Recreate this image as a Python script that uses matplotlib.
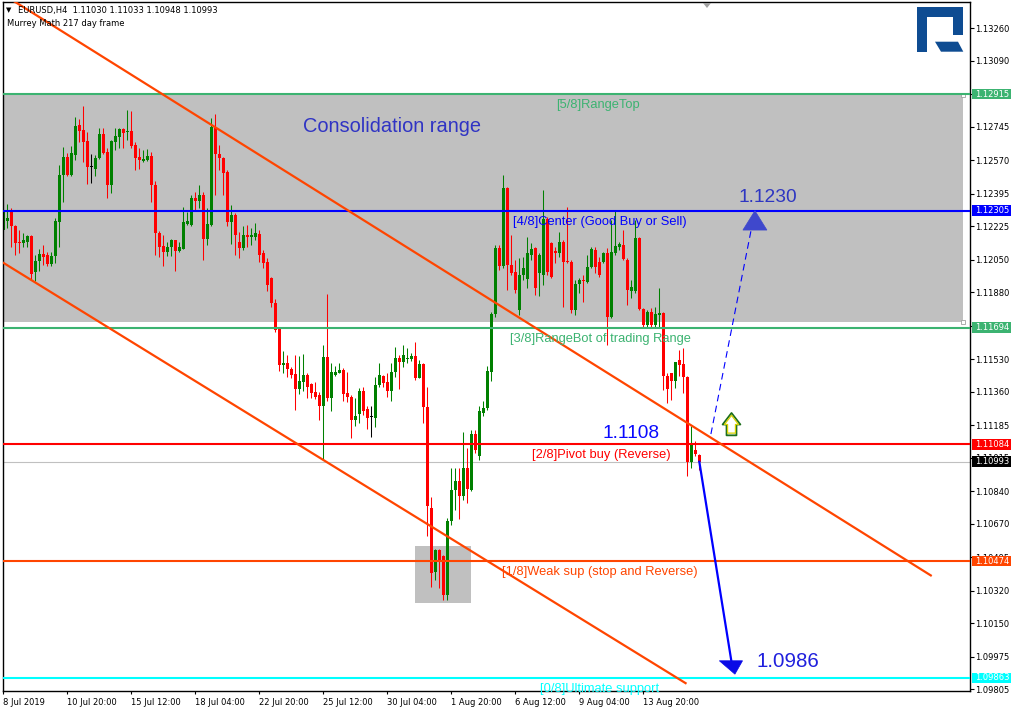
import matplotlib
matplotlib.use('Agg')
import matplotlib.pyplot as plt
import matplotlib.transforms as mtrans
from matplotlib.patches import Rectangle, Polygon
from matplotlib.path import Path
import numpy as np

# ---------------- data (EURUSD H4) ----------------
opens = [1.12202, 1.12249, 1.12310, 1.12226, 1.12144, 1.12134, 1.12144, 1.12171, 1.11983, 1.12040,
         1.12078, 1.12075, 1.12028, 1.12066, 1.12244, 1.12492, 1.12588, 1.12492, 1.12597, 1.12753,
         1.12727, 1.12670, 1.12536, 1.12524, 1.12579, 1.12705, 1.12614, 1.12440, 1.12666, 1.12689,
         1.12733, 1.12715, 1.12722, 1.12649, 1.12588, 1.12565, 1.12571, 1.12592, 1.12440, 1.12191,
         1.12122, 1.12092, 1.12113, 1.12153, 1.12097, 1.12106, 1.12237, 1.12231, 1.12371, 1.12357,
         1.12388, 1.12158, 1.12231, 1.12745, 1.12600, 1.12583, 1.12506, 1.12244, 1.12284, 1.12143,
         1.12110, 1.12178, 1.12168, 1.12168, 1.12184, 1.12084, 1.12037, 1.11952, 1.11821, 1.11691,
         1.11501, 1.11508, 1.11476, 1.11452, 1.11374, 1.11412, 1.11447, 1.11400, 1.11358, 1.11343,
         1.11282, 1.11539, 1.11327, 1.11447, 1.11459, 1.11473, 1.11351, 1.11334, 1.11212, 1.11243,
         1.11365, 1.11268, 1.11228, 1.11224, 1.11395, 1.11442, 1.11410, 1.11365, 1.11463, 1.11536,
         1.11517, 1.11529, 1.11529, 1.11546, 1.11433, 1.11504, 1.11281, 1.10754, 1.10415, 1.10533,
         1.10499, 1.10295, 1.10686, 1.10843, 1.10890, 1.10815, 1.10960, 1.10847, 1.11140, 1.11021,
         1.11248, 1.11274, 1.11460, 1.11766, 1.12109, 1.12017, 1.12422, 1.12022, 1.11987, 1.11787,
         1.11970, 1.11949, 1.12074, 1.12109, 1.11978, 1.11970, 1.12260, 1.12138, 1.12097, 1.12086,
         1.12144, 1.12043, 1.12039, 1.11787, 1.11923, 1.11944, 1.11935, 1.12010, 1.12100, 1.12039,
         1.12039, 1.12086, 1.11752, 1.12086, 1.12114, 1.12126, 1.12048, 1.11883, 1.11883, 1.12161,
         1.11790, 1.11709, 1.11775, 1.11709, 1.11761, 1.11770, 1.11439, 1.11456, 1.11413, 1.11526,
         1.11505, 1.11436, 1.10990, 1.11056, 1.11030]
highs = [1.12345, 1.12341, 1.12318, 1.12231, 1.12205, 1.12188, 1.12179, 1.12179, 1.12075, 1.12106,
         1.12127, 1.12092, 1.12092, 1.12266, 1.12545, 1.12640, 1.12606, 1.12646, 1.12797, 1.12785,
         1.12853, 1.12719, 1.12600, 1.12597, 1.12736, 1.12736, 1.12632, 1.12675, 1.12736, 1.12736,
         1.12739, 1.12832, 1.12826, 1.12666, 1.12632, 1.12623, 1.12628, 1.12614, 1.12458, 1.12197,
         1.12179, 1.12144, 1.12156, 1.12153, 1.12144, 1.12327, 1.12301, 1.12388, 1.12405, 1.12437,
         1.12405, 1.12318, 1.12792, 1.12809, 1.12649, 1.12588, 1.12519, 1.12336, 1.12292, 1.12195,
         1.12225, 1.12230, 1.12215, 1.12241, 1.12204, 1.12100, 1.12058, 1.11957, 1.11842, 1.11696,
         1.11572, 1.11550, 1.11487, 1.11551, 1.11546, 1.11557, 1.11456, 1.11407, 1.11412, 1.11360,
         1.11604, 1.11870, 1.11508, 1.11494, 1.11508, 1.11482, 1.11464, 1.11343, 1.11325, 1.11377,
         1.11386, 1.11282, 1.11285, 1.11438, 1.11508, 1.11447, 1.11456, 1.11508, 1.11595, 1.11551,
         1.11604, 1.11586, 1.11560, 1.11621, 1.11525, 1.11508, 1.11386, 1.10807, 1.10537, 1.10537,
         1.10507, 1.10699, 1.10960, 1.10960, 1.10960, 1.11151, 1.11064, 1.11161, 1.11161, 1.11282,
         1.11309, 1.11491, 1.11778, 1.12126, 1.12126, 1.12492, 1.12430, 1.12179, 1.12048, 1.12057,
         1.12065, 1.12170, 1.12135, 1.12118, 1.12083, 1.12413, 1.12274, 1.12144, 1.12118, 1.12196,
         1.12152, 1.12326, 1.12048, 1.11944, 1.11952, 1.11970, 1.12074, 1.12118, 1.12118, 1.12065,
         1.12092, 1.12109, 1.12257, 1.12309, 1.12144, 1.12205, 1.12057, 1.11944, 1.12257, 1.12170,
         1.11796, 1.11787, 1.11796, 1.11804, 1.11900, 1.11778, 1.11456, 1.11456, 1.11517, 1.11578,
         1.11587, 1.11443, 1.11178, 1.11100, 1.11033]
lows = [1.12197, 1.12217, 1.12118, 1.12075, 1.12084, 1.12118, 1.12118, 1.11944, 1.11939, 1.11991,
        1.12023, 1.12014, 1.12014, 1.12031, 1.12118, 1.12350, 1.12488, 1.12488, 1.12571, 1.12666,
        1.12562, 1.12444, 1.12449, 1.12484, 1.12576, 1.12600, 1.12374, 1.12400, 1.12623, 1.12635,
        1.12632, 1.12675, 1.12632, 1.12519, 1.12524, 1.12559, 1.12565, 1.12350, 1.12075, 1.12063,
        1.12014, 1.12066, 1.12070, 1.11988, 1.12089, 1.12106, 1.12231, 1.12223, 1.12310, 1.12318,
        1.12045, 1.12127, 1.12223, 1.12388, 1.12519, 1.12388, 1.12223, 1.12132, 1.12075, 1.12056,
        1.12100, 1.12115, 1.12126, 1.12152, 1.12037, 1.12006, 1.11887, 1.11804, 1.11673, 1.11470,
        1.11456, 1.11435, 1.11430, 1.11264, 1.11348, 1.11365, 1.11325, 1.11325, 1.11322, 1.11212,
        1.11003, 1.11313, 1.11256, 1.11442, 1.11456, 1.11313, 1.11308, 1.11116, 1.11181, 1.11198,
        1.11238, 1.11163, 1.11125, 1.11174, 1.11386, 1.11386, 1.11329, 1.11313, 1.11438, 1.11374,
        1.11487, 1.11511, 1.11522, 1.11421, 1.11430, 1.11198, 1.10603, 1.10339, 1.10377, 1.10333,
        1.10272, 1.10269, 1.10664, 1.10742, 1.10694, 1.10794, 1.10777, 1.10839, 1.11039, 1.11004,
        1.11230, 1.11265, 1.11413, 1.11752, 1.11996, 1.12005, 1.11891, 1.11970, 1.11874, 1.11761,
        1.11944, 1.11900, 1.12048, 1.11865, 1.11857, 1.11917, 1.11970, 1.11952, 1.12031, 1.12065,
        1.11804, 1.12034, 1.11770, 1.11761, 1.11874, 1.11830, 1.11926, 1.12005, 1.11978, 1.11961,
        1.12031, 1.11604, 1.11744, 1.12074, 1.12100, 1.12048, 1.11813, 1.11848, 1.11874, 1.11787,
        1.11700, 1.11700, 1.11700, 1.11700, 1.11700, 1.11369, 1.11300, 1.11317, 1.11378, 1.11439,
        1.11352, 1.10917, 1.10961, 1.11021, 1.10948]
closes = [1.12301, 1.12266, 1.12223, 1.12139, 1.12134, 1.12153, 1.12171, 1.11976, 1.12044, 1.12080,
          1.12064, 1.12028, 1.12070, 1.12249, 1.12492, 1.12588, 1.12492, 1.12609, 1.12750, 1.12724,
          1.12666, 1.12536, 1.12536, 1.12579, 1.12706, 1.12606, 1.12440, 1.12670, 1.12696, 1.12733,
          1.12713, 1.12722, 1.12646, 1.12583, 1.12571, 1.12576, 1.12592, 1.12437, 1.12188, 1.12113,
          1.12089, 1.12113, 1.12153, 1.12096, 1.12113, 1.12244, 1.12249, 1.12371, 1.12357, 1.12388,
          1.12158, 1.12235, 1.12745, 1.12600, 1.12579, 1.12501, 1.12244, 1.12284, 1.12179, 1.12109,
          1.12178, 1.12168, 1.12178, 1.12189, 1.12073, 1.12032, 1.11917, 1.11821, 1.11682, 1.11499,
          1.11508, 1.11476, 1.11447, 1.11374, 1.11416, 1.11447, 1.11386, 1.11355, 1.11334, 1.11282,
          1.11539, 1.11327, 1.11463, 1.11463, 1.11473, 1.11348, 1.11329, 1.11212, 1.11233, 1.11365,
          1.11259, 1.11224, 1.11228, 1.11395, 1.11445, 1.11407, 1.11365, 1.11464, 1.11536, 1.11517,
          1.11551, 1.11536, 1.11546, 1.11433, 1.11503, 1.11278, 1.10760, 1.10411, 1.10533, 1.10476,
          1.10299, 1.10686, 1.10847, 1.10890, 1.10815, 1.10960, 1.10850, 1.11140, 1.11056, 1.11256,
          1.11274, 1.11470, 1.11766, 1.12109, 1.12017, 1.12422, 1.12022, 1.11982, 1.11891, 1.11970,
          1.12005, 1.12083, 1.12104, 1.11900, 1.12074, 1.12260, 1.11987, 1.11961, 1.12086, 1.12144,
          1.12039, 1.12036, 1.11787, 1.11921, 1.11944, 1.11938, 1.12010, 1.12104, 1.12010, 1.11970,
          1.12083, 1.11752, 1.12092, 1.12121, 1.12130, 1.12051, 1.11891, 1.11909, 1.12161, 1.11790,
          1.11709, 1.11775, 1.11709, 1.11766, 1.11773, 1.11439, 1.11373, 1.11413, 1.11512, 1.11500,
          1.11436, 1.10990, 1.11091, 1.11034, 1.10993]

x_tick_bars = [0, 16, 32, 48, 64, 80, 96, 112, 128, 144, 160]
x_tick_labels = ['8 Jul 2019', '10 Jul 20:00', '15 Jul 12:00', '18 Jul 04:00', '22 Jul 20:00',
                 '25 Jul 12:00', '30 Jul 04:00', '1 Aug 20:00', '6 Aug 12:00', '9 Aug 04:00',
                 '13 Aug 20:00']
y_ticks = [1.13260, 1.13090, 1.12915, 1.12745, 1.12570, 1.12395, 1.12225, 1.12050, 1.11880,
           1.11705, 1.11530, 1.11360, 1.11185, 1.11015, 1.10840, 1.10670, 1.10495, 1.10320,
           1.10150, 1.09975, 1.09805]

levels = [1.12915, 1.12305, 1.11694, 1.11084, 1.10474, 1.09863]
level_names = ['[5/8]RangeTop', '[4/8]Center (Good Buy or Sell)', '[3/8]RangeBot of trading Range',
               '[2/8]Pivot buy (Reverse)', '[1/8]Weak sup (stop and Reverse)', '[0/8]Ultimate support']
level_colors = ['#3CB371', '#0000FF', '#3CB371', '#FF0000', '#FF4500', '#00FFFF']
level_label_bar = [138.1, 127.3, 126.7, 132.1, 124.6, 134.2]
bid_price = 1.10993

# trend channel (bar index, price)
channel_upper = [(0.0, 1.13435), (232.1, 1.10396)]
channel_lower = [(-0.16, 1.12035), (170.8, 1.09833)]

# consolidation range box and low-zone box: (bar0, bar1, price_low, price_high)
consolidation_box = (-1.0, 239.8, 1.11725, 1.12910)
low_box = (102.9, 116.8, 1.10256, 1.10552)

target_up = 1.12305
target_down = 1.09863

# ---------------- figure ----------------
W, H = 1011, 711
fig = plt.figure(figsize=(W / 100, H / 100), dpi=100)
fig.patch.set_facecolor('white')
L, R, T, B = 3, 970, 2, 691
ax = fig.add_axes([L / W, (H - B) / H, (R - L) / W, (B - T) / H])
ymin, ymax = 1.09795, 1.13396
ax.set_xlim(-0.08, 241.67)
ax.set_ylim(ymin, ymax)
ax.set_facecolor('white')
ppx = (ymax - ymin) / (B - T)        # price per pixel

for s in ax.spines.values():
    s.set_color('black')
    s.set_linewidth(1.0)

# rectangles (background)
b0, b1, p0, p1 = consolidation_box
ax.add_patch(Rectangle((b0, p0), b1 - b0, p1 - p0, facecolor='#C0C0C0', edgecolor='none', zorder=0.5))
ax.plot([b1, b1], [p0, p1], ls='none', marker='s', ms=3, mfc='white', mec='#A0A0A0', mew=0.6,
        zorder=0.6, clip_on=False)
b0, b1, p0, p1 = low_box
ax.add_patch(Rectangle((b0, p0), b1 - b0, p1 - p0, facecolor='#C0C0C0', edgecolor='none', zorder=0.5))

# candles
o = np.array(opens); h = np.array(highs); l = np.array(lows); c = np.array(closes)
xs = np.arange(len(o))
cols = np.where(c > o, '#008000', np.where(c < o, '#FF0000', '#000000'))
ax.vlines(xs, np.minimum(l, np.minimum(o, c)), np.maximum(h, np.maximum(o, c)),
          colors=cols, lw=0.75, zorder=2)
body_lo = np.minimum(o, c)
body_h = np.maximum(np.abs(c - o), 0.8 * ppx)
ax.bar(xs, body_h, width=0.68, bottom=body_lo, color=cols, lw=0, zorder=2.1)

# level lines
for lv, col in zip(levels, level_colors):
    ax.axhline(lv, color=col, lw=1.5, zorder=3)
ax.axhline(bid_price, color='#C0C0C0', lw=0.8, zorder=1.5)

for lv, name, col, xb in zip(levels, level_names, level_colors, level_label_bar):
    ax.annotate(name, xy=(xb, lv), xytext=(0, -10), textcoords='offset points',
                ha='left', va='baseline', fontsize=9.3, color=col,
                family=['Liberation Sans', 'DejaVu Sans'], zorder=4)

# channel lines
for seg in (channel_upper, channel_lower):
    (xa, ya), (xb2, yb) = seg
    ax.plot([xa, xb2], [ya, yb], color='#FF4500', lw=1.6, zorder=3.2, solid_capstyle='butt')

# dashed projection up to 1.1230
ax.plot([176.9, 187.9], [1.11138, target_up], color='#0000FF', lw=0.8, ls=(0, (6, 4)), zorder=3.5)
ax.add_patch(Polygon([(187.9, target_up), (184.9, target_up - 19.3 * ppx), (190.9, target_up - 19.3 * ppx)],
                     closed=True, facecolor='#3F48CC', edgecolor='#3F48CC', lw=0.5, zorder=3.6))

# solid projection down to 1.0986
ax.plot([174.0, 182.0], [bid_price, 1.09953], color='#0000FF', lw=1.6, zorder=3.5)
ax.add_patch(Polygon([(179.0, 1.09953), (184.8, 1.09953), (182.9, 1.09883)],
                     closed=True, facecolor='#0A0AE6', edgecolor='#0A0AE6', lw=0.5, zorder=3.6))

# hollow up arrow
arrow_path = Path([(0, 1), (0.77, 0.0), (0.43, 0.0), (0.43, -0.94), (-0.43, -0.94),
                   (-0.43, 0.0), (-0.77, 0.0), (0, 1)], closed=True)
ax.plot([181.9], [1.11190], marker=arrow_path, ms=16.6, mfc='white', mec='#1C6E1C', mew=1.3,
        ls='none', zorder=4)
ax.plot([181.9], [1.11190], marker=arrow_path, ms=13.2, mfc='white', mec='#D6D000', mew=0.9,
        ls='none', zorder=4.1)

# big annotation texts
big = ['Liberation Sans', 'DejaVu Sans']
ax.text(74.9, 1.12716, 'Consolidation range', fontsize=14.4, color='#3034C4', family=big,
        ha='left', va='baseline', zorder=4)
ax.text(183.7, 1.12352, '1.1230', fontsize=13.8, color='#2E36C2', family=big,
        ha='left', va='baseline', zorder=4)
ax.text(149.8, 1.11117, '1.1108', fontsize=13.8, color='#0A0AFF', family=big,
        ha='left', va='baseline', zorder=4)
ax.text(188.2, 1.09921, '1.0986', fontsize=14.8, color='#2020DD', family=big,
        ha='left', va='baseline', zorder=4)

# axes ticks
ax.yaxis.tick_right()
ax.set_yticks(y_ticks)
ax.set_yticklabels(['%.5f' % v for v in y_ticks])
ax.tick_params(axis='y', direction='out', length=2.8, width=0.8, pad=1.2, labelsize=6,
               colors='black')
ax.set_xticks(x_tick_bars)
ax.set_xticklabels(x_tick_labels)
ax.tick_params(axis='x', direction='out', length=2.5, width=0.8, pad=2.2, labelsize=6,
               colors='black')
for t in ax.get_xticklabels():
    t.set_horizontalalignment('left')

# price boxes on the right axis
trans = mtrans.blended_transform_factory(ax.transAxes, ax.transData)
def axx(px):
    return (px - L) / (R - L)
box_prices = levels + [bid_price]
box_colors = level_colors + ['#000000']
for pv, col in zip(box_prices, box_colors):
    ax.add_patch(Rectangle((axx(972), pv - 5.3 * ppx), axx(1011) - axx(972), 10.6 * ppx,
                           transform=trans, facecolor=col, edgecolor='none', clip_on=False, zorder=5))
    ax.text(axx(975), pv, '%.5f' % pv, transform=trans, fontsize=6, color='white',
            ha='left', va='center', clip_on=False, zorder=6)

# header texts
fig.text(6 / W, 1 - 10 / H, '\u25BC', fontsize=5, color='black', va='center', ha='left')
fig.text(18 / W, 1 - 10.5 / H, 'EURUSD,H4  1.11030 1.11033 1.10948 1.10993', fontsize=6,
         color='black', va='center', ha='left')
fig.text(7 / W, 1 - 23.5 / H, 'Murrey Math 217 day frame', fontsize=6, color='black',
         va='center', ha='left')

# chart shift marker
fig.add_artist(Polygon([(703 / W, 1 - 3 / H), (711 / W, 1 - 3 / H), (707 / W, 1 - 8 / H)],
                       closed=True, transform=fig.transFigure, facecolor='#A0A0A0', edgecolor='none'))

# logo
def fpoly(pts, col):
    fig.add_artist(Polygon([(x / W, 1 - y / H) for x, y in pts], closed=True,
                           transform=fig.transFigure, facecolor=col, edgecolor='none', zorder=7))
logo = '#0E4C92'
fpoly([(917, 7.3), (963.3, 7.3), (963.3, 35), (952.7, 35), (952.7, 16.7), (927, 16.7),
       (927, 51.7), (917, 51.7)], logo)
fpoly([(935, 41.7), (958, 41.7), (963.3, 51.7), (941, 51.7)], logo)

fig.savefig('out.png', dpi=100)
